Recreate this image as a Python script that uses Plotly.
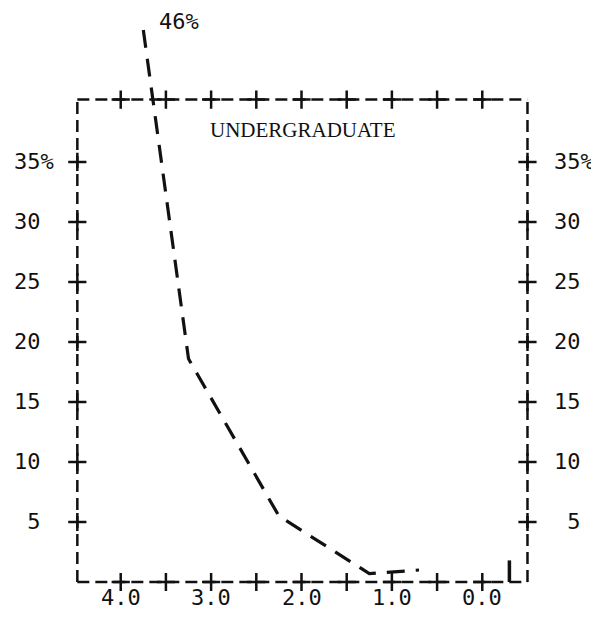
"""
Typewriter-style chart: share of undergraduates by grade point average.
Reversed GPA axis (4.0 on the left), dashed frame with "+" tick marks.
"""
import plotly.graph_objects as go

# ── Data ─────────────────────────────────────────────────────────────────
gpa = [3.75, 3.25, 2.25, 1.25, 0.7]
share = [46.0, 18.6, 5.5, 0.7, 1.0]

# short solid spike near the right edge
spike_gpa = [-0.3, -0.3]
spike_share = [0.0, 1.8]

x_ticks = [4.0, 3.5, 3.0, 2.5, 2.0, 1.5, 1.0, 0.5, 0.0]
x_labels = [4.0, 3.0, 2.0, 1.0, 0.0]
y_ticks = [5, 10, 15, 20, 25, 30, 35]
peak_label = "46%"
panel_title = "UNDERGRADUATE"

INK = "#111111"
MONO = "DejaVu Sans Mono"

# frame limits in data units
frame_left, frame_right = 4.48, -0.5
frame_bottom, frame_top = 0.0, 40.2

fig = go.Figure()

# dashed curve
fig.add_trace(go.Scatter(
    x=gpa, y=share, mode="lines",
    line=dict(color=INK, width=3.2, dash="18px,11px"),
    hoverinfo="skip",
))

# little spike at the end
fig.add_trace(go.Scatter(
    x=spike_gpa, y=spike_share, mode="lines",
    line=dict(color=INK, width=3.5),
    hoverinfo="skip",
))

# "+" tick marks on all four sides of the frame
tx = [frame_left] * len(y_ticks) + [frame_right] * len(y_ticks) + x_ticks * 2
ty = y_ticks * 2 + [frame_bottom] * len(x_ticks) + [frame_top] * len(x_ticks)
fig.add_trace(go.Scatter(
    x=tx, y=ty, mode="markers",
    marker=dict(symbol="cross-thin", size=13, line=dict(color=INK, width=2.5)),
    hoverinfo="skip", cliponaxis=False,
))

# dashed frame
dash_style = dict(color=INK, width=2.5, dash="12px,6px")
for x in (frame_left, frame_right):
    fig.add_shape(type="line", x0=x, x1=x, y0=frame_bottom, y1=frame_top, line=dash_style)
for y in (frame_bottom, frame_top):
    fig.add_shape(type="line", x0=frame_left, x1=frame_right, y0=y, y1=y, line=dash_style)

# y labels, typewriter-aligned (two-char number column, % only on top label)
def y_text(v):
    s = f"{v:>2}".replace(" ", "\u00a0")
    return s + ("%" if v == y_ticks[-1] else "")

for v in y_ticks:
    for xp in (-0.128, 1.0434):
        fig.add_annotation(
            text=y_text(v), x=xp, xref="paper", y=v, yref="y",
            xanchor="left", yanchor="middle", showarrow=False,
            font=dict(family=MONO, size=22, color=INK),
        )

# x labels under the frame
for v in x_labels:
    fig.add_annotation(
        text=f"{v:.1f}", x=v, xref="x", y=-0.006, yref="paper",
        xanchor="center", yanchor="middle", showarrow=False,
        font=dict(family=MONO, size=22, color=INK),
    )

fig.add_annotation(
    text=peak_label, x=0.234, xref="paper", y=0.998, yref="paper",
    xanchor="center", yanchor="middle", showarrow=False,
    font=dict(family=MONO, size=22, color=INK),
)
fig.add_annotation(
    text=panel_title, x=0.503, xref="paper", y=0.808, yref="paper",
    xanchor="center", yanchor="middle", showarrow=False,
    font=dict(family="Liberation Serif", size=21, color=INK),
)

# the page body adds an 8px margin, so the figure is 8px smaller and
# its margins are shifted to keep the frame where the scan has it
fig.update_layout(
    width=591, height=616,
    margin=dict(l=63, r=67, t=12, b=30),
    paper_bgcolor="white", plot_bgcolor="white",
    showlegend=False,
    xaxis=dict(range=[4.55, -0.55], visible=False),
    yaxis=dict(range=[-1, 46.83], visible=False),
)

fig.write_html("out.html")
